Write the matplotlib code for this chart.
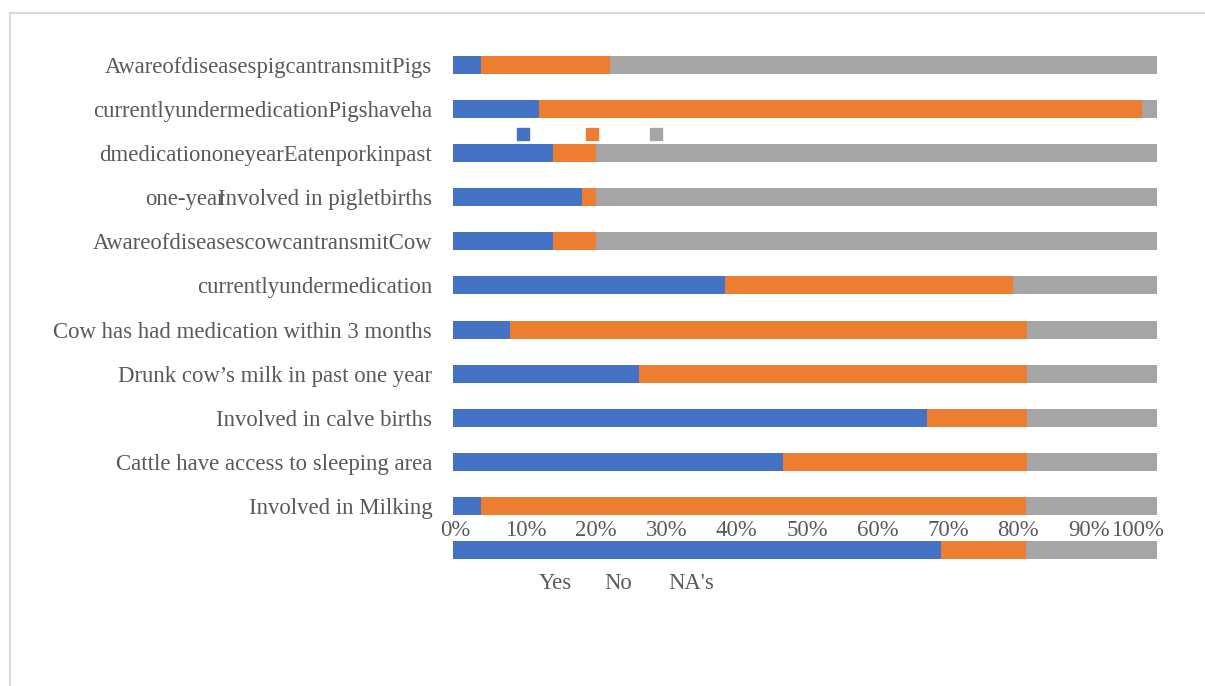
import matplotlib.pyplot as plt
from matplotlib.lines import Line2D

# rows, top to bottom (last bar has no label in the original)
labels = [
    "AwareofdiseasespigcantransmitPigs",
    "currentlyundermedicationPigshaveha",
    "dmedicationoneyearEatenporkinpast",
    "Involved in pigletbirths",
    "AwareofdiseasescowcantransmitCow",
    "currentlyundermedication",
    "Cow has had medication within 3 months",
    "Drunk cow\u2019s milk in past one year",
    "Involved in calve births",
    "Cattle have access to sleeping area",
    "Involved in Milking",
    "",
]
overlap_prefix = "one-year"   # overlaps the start of row 3's label in the original
yes = [4.0, 12.2, 14.2, 18.3, 14.2, 38.6, 8.1, 26.4, 67.3, 46.9, 4.0, 69.3]
no = [18.3, 85.7, 6.1, 2.0, 6.1, 40.9, 73.4, 55.1, 14.2, 34.6, 77.4, 12.1]
na = [100 - a - b for a, b in zip(yes, no)]

ticks = [0, 10, 20, 30, 40, 50, 60, 70, 80, 90, 100]
tick_labels = ["%d%%" % t for t in ticks]
series = ["Yes", "No", "NA's"]
colors = ["#4472C4", "#ED7D31", "#A5A5A5"]

txt = "#595959"
fs = 16.4
plt.rcParams['font.family'] = ['Liberation Serif', 'DejaVu Serif']

fig = plt.figure(figsize=(12.05, 6.86), dpi=100)
W, H = 1205, 686
ax = fig.add_axes([453 / W, (H - 572) / H, 704 / W, 529 / H])

pos = list(range(len(labels)))
ax.barh(pos, yes, height=0.41, color=colors[0])
ax.barh(pos, no, left=yes, height=0.41, color=colors[1])
ax.barh(pos, na, left=[a + b for a, b in zip(yes, no)], height=0.41, color=colors[2])

ax.set_xlim(0, 100)
ax.set_ylim(11.5, -0.5)
ax.set_yticks(pos)
ax.set_yticklabels(labels, fontsize=fs, color=txt)
ax.tick_params(axis='y', length=0, pad=15)
ax.set_xticks([])
for s in ax.spines.values():
    s.set_visible(False)

# "one-year" jammed into the start of the piglet label
fig.canvas.draw()
lab3 = ax.get_yticklabels()[3]
bb = lab3.get_window_extent()
x0, _ = ax.transData.inverted().transform((bb.x0 + 7, 0))
ax.text(x0, 3, overlap_prefix, ha='right', va='center_baseline', fontsize=fs, color=txt, clip_on=False)

# percentage labels sit between the last two bars
for t, lab in zip(ticks, tick_labels):
    if t == 100:
        ax.text(101, 10.55, lab, ha='right', va='center', fontsize=fs, color=txt, clip_on=False)
    else:
        ax.text(t + 0.3, 10.55, lab, ha='center', va='center', fontsize=fs, color=txt, clip_on=False)

# stray legend markers and legend text
for xm, c in zip([9.95, 19.75, 28.85], colors):
    ax.plot([xm], [1.565], marker='s', markersize=9, color=c, clip_on=False)
for xt, s in zip([14.5, 23.4, 33.9], series):
    ax.text(xt, 11.75, s, ha='center', va='center', fontsize=fs, color=txt, clip_on=False)

# border lines (top and left)
fig.add_artist(Line2D([10 / W, 1], [1 - 13 / H, 1 - 13 / H], color='#D9D9D9', lw=1.5))
fig.add_artist(Line2D([10 / W, 10 / W], [0, 1 - 13 / H], color='#D9D9D9', lw=1.5))

fig.savefig("out.png", dpi=100)
